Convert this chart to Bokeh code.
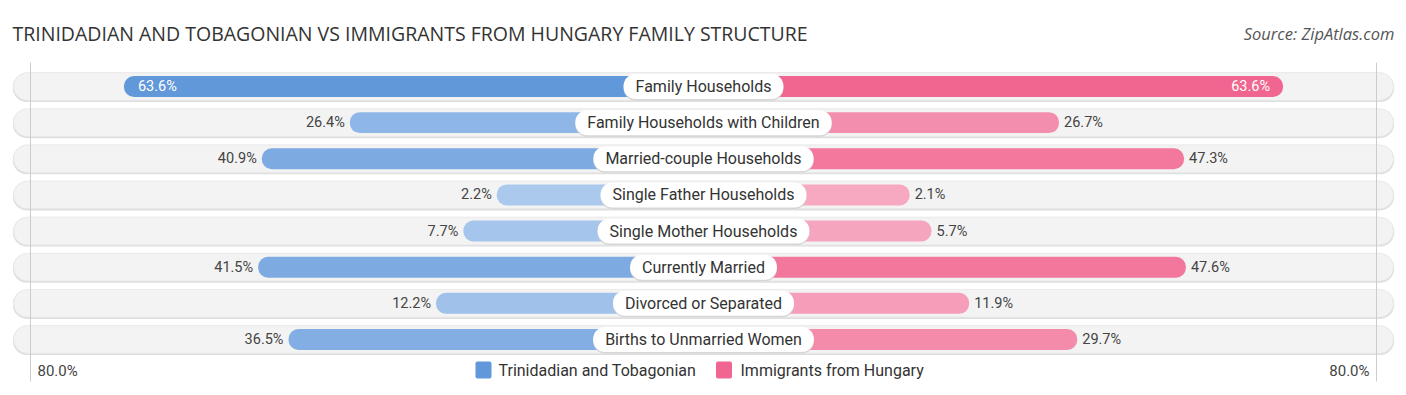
from bokeh.plotting import figure
from bokeh.models import Range1d, ColumnDataSource
from bokeh.core.properties import value
from bokeh.embed import file_html
from bokeh.resources import INLINE

# ---------------- data ----------------
categories = [
    "Family Households",
    "Family Households with Children",
    "Married-couple Households",
    "Single Father Households",
    "Single Mother Households",
    "Currently Married",
    "Divorced or Separated",
    "Births to Unmarried Women",
]
trinidadian = [63.6, 26.4, 40.9, 2.2, 7.7, 41.5, 12.2, 36.5]
hungary = [63.6, 26.7, 47.3, 2.1, 5.7, 47.6, 11.9, 29.7]
series_names = ["Trinidadian and Tobagonian", "Immigrants from Hungary"]
axis_max_label = "80.0%"
title_text = "TRINIDADIAN AND TOBAGONIAN VS IMMIGRANTS FROM HUNGARY FAMILY STRUCTURE"
source_text = "Source: ZipAtlas.com"

# ---------------- layout constants ----------------
W, H = 1400, 390
ORIG = 0            # page offset of the figure
X0 = 703.0          # page x of centre
PPU = 6.072         # pixels per percent
OFF = 31.85         # bar offset (percent units) reserved for the centre label
Y0 = 86.0           # page y of first row
ROW = 36.14         # pixels per row


def px_x(px):
    return (px - X0) / PPU


def px_y(py):
    return (py - Y0) / ROW


def mix(c1, c2, t):
    a = [int(c1[i:i + 2], 16) for i in (1, 3, 5)]
    b = [int(c2[i:i + 2], 16) for i in (1, 3, 5)]
    return "#" + "".join("%02x" % round(a[k] + (b[k] - a[k]) * t) for k in range(3))


BLUE_HI, BLUE_LO = "#6198da", "#aecbee"
PINK_HI, PINK_LO = "#f06690", "#f7abc3"
vmax = max(max(trinidadian), max(hungary))

p = figure(width=W, height=H, output_backend="svg", toolbar_location=None,
           x_range=Range1d(px_x(ORIG), px_x(ORIG + W)),
           y_range=Range1d(px_y(ORIG + H), px_y(ORIG)),
           min_border=0)
p.axis.visible = False
p.grid.visible = False
p.outline_line_color = None
p.background_fill_color = "white"
p.border_fill_color = "white"

n = len(categories)
rows = list(range(n))

# background pills
bg_half = px_x(1393)
p.hbar(y=[r + 0.03 for r in rows], left=-bg_half - 0.1, right=bg_half + 0.1, height=0.80,
       fill_color="#dedede", line_color=None, border_radius=14)
p.hbar(y=rows, left=-bg_half, right=bg_half, height=0.77,
       fill_color="#f3f3f3", line_color="#e6e6e6", line_width=0.8, border_radius=14)

# faint guide lines at 80%
gx = px_x(30)
p.segment(x0=[-gx, gx], x1=[-gx, gx], y0=[px_y(62)] * 2, y1=[px_y(381)] * 2,
          line_color="#cccccc", line_width=1)

# bars
left_src = ColumnDataSource(dict(
    y=rows,
    left=[-(v + OFF) for v in trinidadian],
    right=[0] * n,
    color=[mix(BLUE_LO, BLUE_HI, v / vmax) for v in trinidadian],
))
right_src = ColumnDataSource(dict(
    y=rows,
    left=[0] * n,
    right=[v + OFF for v in hungary],
    color=[mix(PINK_LO, PINK_HI, v / vmax) for v in hungary],
))
p.hbar(y="y", left="left", right="right", height=0.58, fill_color="color",
       line_color=None, border_radius=10, source=left_src)
p.hbar(y="y", left="left", right="right", height=0.58, fill_color="color",
       line_color=None, border_radius=10, source=right_src)

# value labels
THR = 55
VFS = "14.5px"
for vals, side in ((trinidadian, -1), (hungary, 1)):
    out_x, out_y, out_t = [], [], []
    in_x, in_y, in_t = [], [], []
    for i, v in enumerate(vals):
        if v > THR:
            in_x.append(side * (v + OFF)); in_y.append(i); in_t.append(f"{v:.1f}%")
        else:
            out_x.append(side * (v + OFF)); out_y.append(i); out_t.append(f"{v:.1f}%")
    p.text(x=out_x, y=out_y, text=out_t, text_font=value("Roboto"), text_font_size=VFS,
           text_color="#444444", text_baseline="middle",
           text_align="right" if side < 0 else "left", x_offset=-5 if side < 0 else 5)
    p.text(x=in_x, y=in_y, text=in_t, text_font=value("Roboto"), text_font_size=VFS,
           text_color="white", text_baseline="middle", text_font_style="normal",
           text_align="left" if side < 0 else "right", x_offset=14 if side < 0 else -13)

# centre labels with white pill
pad = dict(left=12, right=12, top=3, bottom=3)
p.text(x=[0] * n, y=rows, text=categories, text_font=value("Roboto"), text_font_size="16px",
       text_color="#333333", text_alpha=0, text_align="center", text_baseline="middle",
       y_offset=1.5, background_fill_color="#cfcfcf", background_fill_alpha=0.8,
       padding=pad, border_radius=12)
p.text(x=[0] * n, y=rows, text=categories, text_font=value("Roboto"), text_font_size="16px",
       text_color="#333333", text_align="center", text_baseline="middle",
       background_fill_color="white", padding=pad, border_radius=12)

# title and source
p.text(x=[px_x(12)], y=[px_y(33)], text=[title_text], text_font=value("Open Sans"),
       text_font_size="19.5px", text_color="#333333", text_baseline="middle", text_align="left")
p.text(x=[px_x(1394)], y=[px_y(33)], text=[source_text], text_font=value("Open Sans"),
       text_font_size="16.5px", text_font_style="italic", text_color="#555555",
       text_baseline="middle", text_align="right")

# axis end labels
p.text(x=[px_x(37), px_x(1369)], y=[px_y(370)] * 2, text=[axis_max_label] * 2,
       text_font=value("Roboto"), text_font_size="15px", text_color="#444444",
       text_baseline="middle", text_align=["left", "right"])

# legend
p.rect(x=[px_x(483), px_x(723.5)], y=[px_y(369.5)] * 2, width=16, height=17,
       width_units="screen", height_units="screen",
       fill_color=[BLUE_HI, PINK_HI], line_color=None, border_radius=2)
p.text(x=[px_x(498), px_x(740)], y=[px_y(370)] * 2, text=series_names,
       text_font=value("Roboto"), text_font_size="16px", text_color="#333333",
       text_baseline="middle", text_align="left")

open("out.html", "w").write(file_html(p, INLINE))
